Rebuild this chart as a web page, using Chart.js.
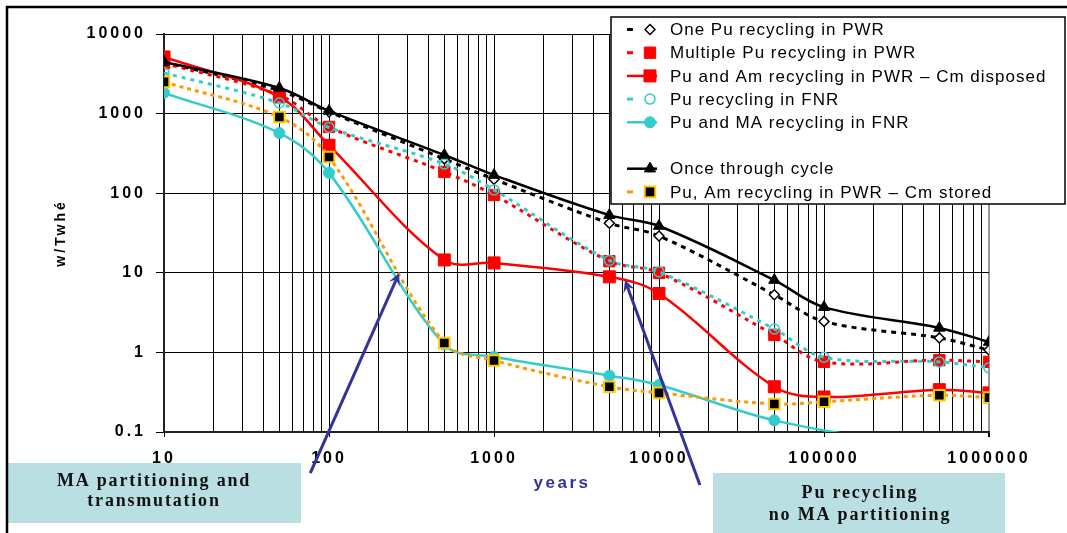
<!DOCTYPE html>
<html>
<head>
<meta charset="utf-8">
<script src="https://cdn.jsdelivr.net/npm/chart.js"></script>
<style>
  html, body { margin: 0; padding: 0; background: #fff; }
  canvas { display: block; }
</style>
</head>
<body>
<canvas id="wasteChart" width="1067" height="533"></canvas>
<script>
// time after discharge (years)
const years = [10, 50, 100, 500, 1000, 5000, 10000, 50000, 100000, 500000, 1000000];

// radiotoxicity, w/Twhé
const onePuPWR   = [4400, 1950, 1050, 270, 150, 42, 29, 5.3, 2.45, 1.52, 1.07];
const multiPuPWR = [4300, 1700, 680, 185, 95, 14, 10, 1.66, 0.76, 0.80, 0.76];
const puAmPWR    = [5150, 1620, 400, 14.5, 13.3, 8.9, 5.5, 0.37, 0.275, 0.34, 0.31];
const puFNR      = [3250, 1360, 670, 233, 110, 14.3, 10.3, 1.97, 0.87, 0.76, 0.64];
const puMAFNR    = [1820, 570, 180, 1.25, 0.88, 0.51, 0.39, 0.14, null, 0.06, 0.045];
const onceThru   = [4450, 2100, 1080, 302, 169, 53, 38.7, 8.1, 3.7, 2.03, 1.35];
const puAmStored = [2500, 905, 285, 1.31, 0.79, 0.37, 0.31, 0.225, 0.24, 0.29, 0.27];

const seriesNames = [
  "One Pu recycling in PWR",
  "Multiple Pu recycling in PWR",
  "Pu and Am recycling in PWR \u2013 Cm disposed",
  "Pu recycling in FNR",
  "Pu and MA recycling in FNR",
  "Once through cycle",
  "Pu, Am recycling in PWR \u2013 Cm stored"
];

const xTickLabels = [10, 100, 1000, 10000, 100000, 1000000];
const yTickLabels = [0.1, 1, 10, 100, 1000, 10000];
const xTitle = "years";
const yTitle = "w/Twh\u00e9";

const noteTexts = [
  ["MA partitioning and", "transmutation"],
  ["Pu recycling", "no MA partitioning"]
];
// arrow tail / tip in data units
const arrowTails = [[77, 0.0305], [17700, 0.0216]];
const arrowTips  = [[266, 9.9], [6220, 8.1]];

// minor grid every 1..9 per decade
const xGridValues = [];
xTickLabels.forEach((d, i) => {
  if (i === xTickLabels.length - 1) { xGridValues.push(d); return; }
  for (let k = 1; k <= 9; k++) xGridValues.push(d * k);
});

const CYAN = "#33cccc", RED = "#ff0000", ORANGE = "#ff9900";

function makeSet(idx, values, color, dash, style, radius, bg, border, bw) {
  return {
    label: seriesNames[idx],
    data: years.map((x, i) => ({ x: x, y: values[i] })),
    borderColor: color,
    borderWidth: dash ? 3 : 2.5,
    borderDash: dash || [],
    pointStyle: style,
    pointRadius: radius,
    pointHoverRadius: radius,
    pointBackgroundColor: bg,
    pointBorderColor: border,
    pointBorderWidth: bw,
    tension: 0.35,
    spanGaps: true,
    fill: false,
    order: 10 - idx
  };
}

const datasets = [
  makeSet(0, onePuPWR,   "#000", [5, 5], "rectRot", 5, "#fff", "#000", 1.5),
  makeSet(1, multiPuPWR, RED,    [4, 5], "rect", 8, RED, RED, 1),
  makeSet(2, puAmPWR,    RED,    null,   "rect", 8.5, RED, RED, 1),
  makeSet(3, puFNR,      CYAN,   [4, 5], "circle", 5, "rgba(0,0,0,0)", CYAN, 1.5),
  makeSet(4, puMAFNR,    CYAN,   null,   "circle", 5.5, CYAN, CYAN, 1),
  makeSet(5, onceThru,   "#000", null,   "triangle", 6.5, "#000", "#000", 1),
  makeSet(6, puAmStored, ORANGE, [4, 4], "rect", 7.5, "#000", "#ffcc00", 2)
];

const legendRows = [0, 1, 2, 3, 4, null, 5, 6];

function drawMarker(ctx, style, r, x, y, fill, stroke, lw) {
  ctx.beginPath();
  if (style === "circle") {
    ctx.arc(x, y, r, 0, Math.PI * 2);
  } else if (style === "rect") {
    const s = Math.SQRT1_2 * r;
    ctx.rect(x - s, y - s, 2 * s, 2 * s);
  } else if (style === "rectRot") {
    ctx.moveTo(x - r, y); ctx.lineTo(x, y - r); ctx.lineTo(x + r, y); ctx.lineTo(x, y + r);
    ctx.closePath();
  } else if (style === "triangle") {
    ctx.moveTo(x, y - r); ctx.lineTo(x + 0.866 * r, y + 0.5 * r); ctx.lineTo(x - 0.866 * r, y + 0.5 * r);
    ctx.closePath();
  }
  ctx.fillStyle = fill;
  ctx.fill();
  ctx.setLineDash([]);
  ctx.lineWidth = lw;
  ctx.strokeStyle = stroke;
  ctx.stroke();
}

const decorPlugin = {
  id: "decor",
  beforeDraw(chart) {
    chart.ctx.letterSpacing = "3px";
  },
  beforeDatasetsDraw(chart) {
    chart.ctx.letterSpacing = "0px";
  },
  afterDraw(chart) {
    const ctx = chart.ctx;
    const xs = chart.scales.x, ys = chart.scales.y;
    ctx.save();
    ctx.letterSpacing = "0px";

    // x title, a little left of centre like the original
    ctx.font = "bold 17px 'Liberation Sans', Arial, sans-serif";
    ctx.fillStyle = "#333399";
    ctx.textAlign = "center";
    ctx.textBaseline = "middle";
    ctx.letterSpacing = "2.5px";
    ctx.fillText(xTitle, 562, 483);
    ctx.letterSpacing = "0px";

    // arrows
    ctx.strokeStyle = "#333399";
    ctx.fillStyle = "#333399";
    ctx.lineWidth = 3;
    arrowTips.forEach((tip, i) => {
      const tx = xs.getPixelForValue(tip[0]), ty = ys.getPixelForValue(tip[1]);
      const fx = xs.getPixelForValue(arrowTails[i][0]), fy = ys.getPixelForValue(arrowTails[i][1]);
      const ang = Math.atan2(ty - fy, tx - fx);
      const cos = Math.cos(ang), sin = Math.sin(ang);
      ctx.beginPath();
      ctx.moveTo(fx, fy);
      ctx.lineTo(tx - cos * 6, ty - sin * 6);
      ctx.stroke();
      ctx.beginPath();
      ctx.moveTo(tx, ty);
      ctx.lineTo(tx - cos * 12 - sin * 6, ty - sin * 12 + cos * 6);
      ctx.lineTo(tx - cos * 7, ty - sin * 7);
      ctx.lineTo(tx - cos * 12 + sin * 6, ty - sin * 12 - cos * 6);
      ctx.closePath();
      ctx.fill();
    });

    // note boxes
    const boxes = [
      { x: 7, y: 463, w: 294, h: 60, cx: 154, ly: [481, 501] },
      { x: 713, y: 473, w: 292, h: 70, cx: 860, ly: [493, 515] }
    ];
    ctx.font = "bold 18px 'Liberation Serif', 'Times New Roman', serif";
    ctx.textAlign = "center";
    ctx.textBaseline = "middle";
    boxes.forEach((b, i) => {
      ctx.fillStyle = "#b9dfe3";
      ctx.fillRect(b.x, b.y, b.w, b.h);
      ctx.fillStyle = "#111";
      ctx.letterSpacing = "1.8px";
      noteTexts[i].forEach((t, j) => ctx.fillText(t, b.cx, b.ly[j]));
      ctx.letterSpacing = "0px";
    });

    // legend box
    const lx = 611, ly = 17, lw = 454, lh = 187;
    ctx.fillStyle = "#fff";
    ctx.fillRect(lx, ly, lw, lh);
    ctx.strokeStyle = "#000";
    ctx.lineWidth = 1.5;
    ctx.setLineDash([]);
    ctx.strokeRect(lx, ly, lw, lh);
    ctx.font = "17px 'Liberation Sans', Arial, sans-serif";
    ctx.textAlign = "left";
    ctx.letterSpacing = "1px";
    legendRows.forEach((di, r) => {
      if (di === null) return;
      const ds = chart.data.datasets[di];
      const y = 29.5 + r * 23.2;
      ctx.strokeStyle = ds.borderColor;
      ctx.lineWidth = ds.borderWidth;
      ctx.setLineDash([]);
      ctx.beginPath();
      ctx.moveTo(627, y);
      ctx.lineTo(ds.borderDash.length ? 633 : 657, y);
      ctx.stroke();
      drawMarker(ctx, ds.pointStyle, ds.pointRadius, 650, y,
        ds.pointBackgroundColor === "rgba(0,0,0,0)" ? "#fff" : ds.pointBackgroundColor,
        ds.pointBorderColor, ds.pointBorderWidth);
      ctx.fillStyle = "#000";
      ctx.fillText(ds.label, 670, y + 1);
    });
    ctx.letterSpacing = "0px";

    // outer frame
    ctx.strokeStyle = "#000";
    ctx.lineWidth = 2.5;
    ctx.strokeRect(7, 7, 1200, 700);
    ctx.restore();
  }
};

Chart.defaults.font.family = "'Liberation Sans', Arial, sans-serif";
Chart.defaults.color = "#000";

new Chart(document.getElementById("wasteChart"), {
  type: "line",
  data: { datasets: datasets },
  options: {
    responsive: false,
    animation: false,
    devicePixelRatio: 1,
    layout: { padding: { left: 0, right: 78, top: 34, bottom: 0 } },
    plugins: {
      legend: { display: false },
      tooltip: { enabled: false }
    },
    scales: {
      x: {
        type: "logarithmic",
        min: 10,
        max: 1000000,
        afterBuildTicks: (scale) => {
          scale.ticks = xGridValues.map(v => ({ value: v }));
        },
        afterFit: (scale) => { scale.height = 101; },
        ticks: {
          autoSkip: false,
          maxRotation: 0,
          padding: 12,
          font: { size: 16, weight: "bold" },
          callback: (v) => xTickLabels.includes(v) ? String(v) : ""
        },
        grid: {
          color: (c) => c.tick && c.tick.value === 1000000 ? "#999" : "#000",
          lineWidth: (c) => c.tick && c.tick.value === 1000000 ? 2 : 1,
          tickLength: 5,
          tickColor: (c) => c.tick && xTickLabels.includes(c.tick.value) ? "#000" : "rgba(0,0,0,0)"
        },
        border: { color: "#222", width: 2 }
      },
      y: {
        type: "logarithmic",
        min: 0.1,
        max: 10000,
        afterBuildTicks: (scale) => {
          scale.ticks = yTickLabels.map(v => ({ value: v }));
        },
        afterFit: (scale) => { scale.width = 164; },
        ticks: {
          autoSkip: false,
          padding: 10,
          font: { size: 16, weight: "bold" },
          callback: (v) => String(v)
        },
        grid: { color: "#000", lineWidth: 1, tickLength: 8, tickColor: "#000" },
        border: { color: "#222", width: 2 },
        title: {
          display: true,
          text: yTitle,
          font: { size: 14, weight: "bold" },
          padding: { top: 53, bottom: 0 }
        }
      }
    }
  },
  plugins: [decorPlugin]
});
</script>
</body>
</html>
